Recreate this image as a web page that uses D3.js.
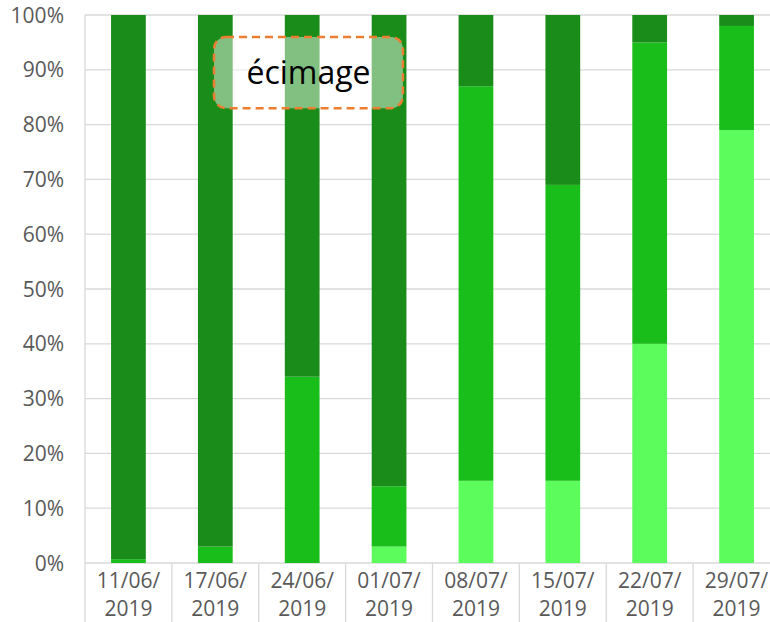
<!DOCTYPE html>
<html>
<head>
<meta charset="utf-8"/>
<script src="https://cdn.jsdelivr.net/npm/d3@7"></script>
<style>
body { margin: 0; background: #fff; }
text { font-family: "Open Sans", sans-serif; }
</style>
</head>
<body>
<svg width="770" height="622"></svg>
<script>
// dates (two-line labels) and share of each class, in %
var dates = ["11/06/2019", "17/06/2019", "24/06/2019", "01/07/2019",
             "08/07/2019", "15/07/2019", "22/07/2019", "29/07/2019"];
var light = [0, 0, 0, 3, 15, 15, 40, 79];
var mid   = [0.7, 3, 34, 11, 72, 54, 55, 19];
var dark  = [99.3, 97, 66, 86, 13, 31, 5, 2];
var yTicks = [0, 10, 20, 30, 40, 50, 60, 70, 80, 90, 100];

var keys = ["light", "mid", "dark"];
var colors = { light: "#5cfc5c", mid: "#1abe1a", dark: "#1a8c1a" };

var rows = dates.map(function(d, i) {
  return { date: d, light: light[i], mid: mid[i], dark: dark[i] };
});

var svg = d3.select("svg"),
    pLeft = 85, pRight = 780, pTop = 15, pBottom = 563;

var x = d3.scaleBand().domain(dates).range([pLeft, pRight]).padding(0);
var y = d3.scaleLinear().domain([0, 100]).range([pBottom, pTop]);
var bw = x.bandwidth();

// gridlines
svg.append("g").selectAll("line")
  .data(yTicks)
  .enter().append("line")
    .attr("x1", pLeft).attr("x2", pRight)
    .attr("y1", function(d) { return y(d); })
    .attr("y2", function(d) { return y(d); })
    .attr("stroke", "#d9d9d9")
    .attr("stroke-width", 1.3);

// category separators below the axis
svg.append("g").selectAll("line")
  .data(dates.concat(["end"]))
  .enter().append("line")
    .attr("x1", function(d, i) { return pLeft + i * bw; })
    .attr("x2", function(d, i) { return pLeft + i * bw; })
    .attr("y1", function(d, i) { return i === 0 ? pTop : pBottom; })
    .attr("y2", 622)
    .attr("stroke", "#d9d9d9")
    .attr("stroke-width", 1.3);

// stacked bars
var series = d3.stack().keys(keys)(rows);
svg.append("g").selectAll("g")
  .data(series)
  .enter().append("g")
    .attr("fill", function(s) { return colors[s.key]; })
  .selectAll("rect")
  .data(function(s) { return s; })
  .enter().append("rect")
    .attr("x", function(d) { return x(d.data.date) + bw * 0.3; })
    .attr("width", bw * 0.4)
    .attr("y", function(d) { return y(d[1]); })
    .attr("height", function(d) { return y(d[0]) - y(d[1]); });

// y labels
svg.append("g").selectAll("text")
  .data(yTicks)
  .enter().append("text")
    .attr("x", 64)
    .attr("y", function(d) { return y(d); })
    .attr("dy", "0.36em")
    .attr("text-anchor", "end")
    .attr("font-size", 21)
    .attr("fill", "#595959")
    .text(function(d) { return d + "%"; });

// x labels, split on the year
var xl = svg.append("g").selectAll("text")
  .data(dates)
  .enter().append("text")
    .attr("text-anchor", "middle")
    .attr("font-size", 21)
    .attr("fill", "#595959");
xl.append("tspan")
    .attr("x", function(d) { return x(d) + bw / 2; })
    .attr("y", 588)
    .text(function(d) { return d.slice(0, 6); });
xl.append("tspan")
    .attr("x", function(d) { return x(d) + bw / 2; })
    .attr("y", 616)
    .text(function(d) { return d.slice(6); });

// "écimage" annotation
var bx0 = pLeft + bw * 1.485, bx1 = pLeft + bw * 3.66;
svg.append("rect")
    .attr("x", bx0).attr("y", y(96))
    .attr("width", bx1 - bx0).attr("height", y(83) - y(96))
    .attr("rx", 12).attr("ry", 12)
    .attr("fill", "#ffffff").attr("fill-opacity", 0.45)
    .attr("stroke", "#ed7d31").attr("stroke-width", 2.5)
    .attr("stroke-dasharray", "8,5");
svg.append("text")
    .attr("x", (bx0 + bx1) / 2)
    .attr("y", (y(96) + y(83)) / 2)
    .attr("dy", "0.36em")
    .attr("text-anchor", "middle")
    .attr("font-size", 32)
    .attr("fill", "#000")
    .text("écimage");
</script>
</body>
</html>
